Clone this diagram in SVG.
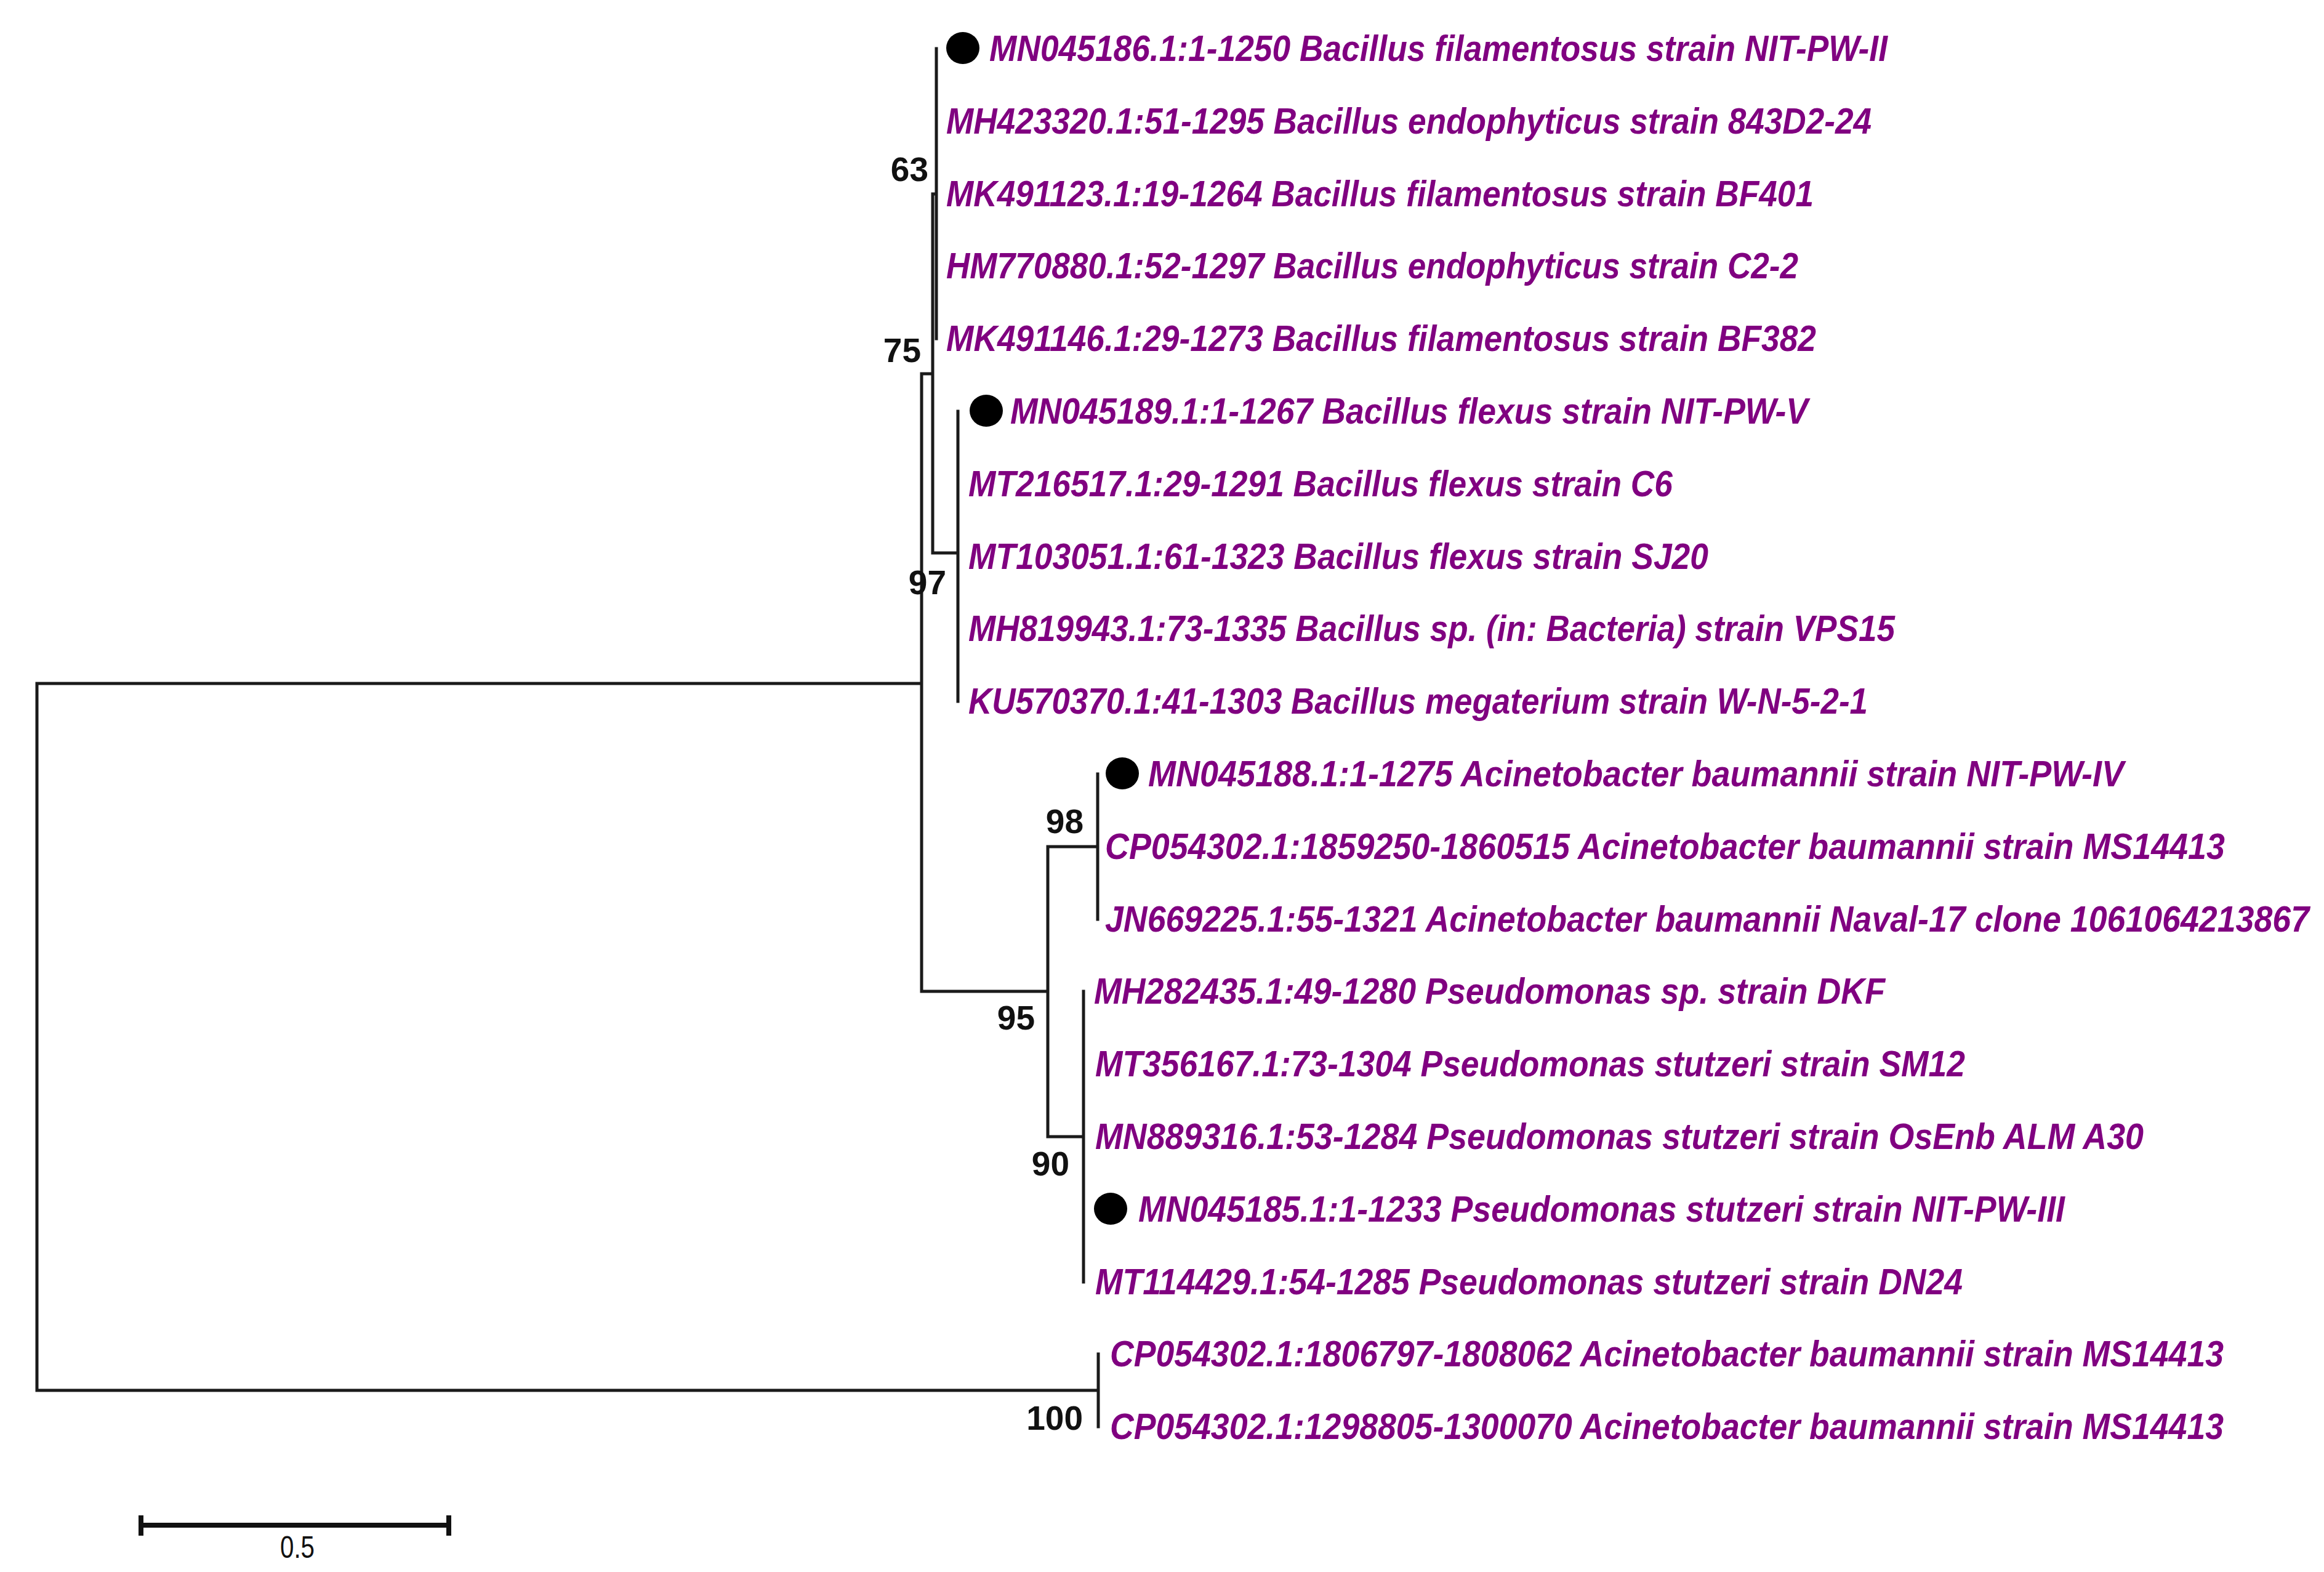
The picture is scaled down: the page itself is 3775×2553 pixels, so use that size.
<svg xmlns="http://www.w3.org/2000/svg" width="3775" height="2553" viewBox="0 0 3775 2553">
<style>
.leaf{font-family:"Liberation Sans",Arial,sans-serif;font-weight:bold;font-style:italic;font-size:54px;fill:#800080;}
.sup{font-family:"Liberation Sans",Arial,sans-serif;font-weight:bold;font-size:55px;fill:#111;text-anchor:end;}
.branch{fill:none;stroke:#1a1a1a;stroke-width:5;stroke-linecap:square;}
.dot{fill:#000;}
.scale{fill:none;stroke:#111;stroke-width:8;}
.scaletxt{font-family:"Liberation Sans",Arial,sans-serif;font-size:50px;fill:#111;text-anchor:middle;}
</style>
<rect width="3775" height="2553" fill="#fff"/>
<g id="connectors">
<path class="branch" d="M60,1110 V2258 M60,1110 H1497 M60,2258 H1784 M1497,607 V1610 M1497,607 H1515 M1497,1610 H1702 M1515,315 V898 M1515,315 H1521 M1515,898 H1556 M1521,79 V550 M1556,668 V1139 M1702,1375 V1846 M1702,1375 H1783 M1702,1846 H1760 M1783,1257 V1493 M1760,1610 V2082 M1784,2199 V2317"/>
</g>
<g id="support-values">
<text class="sup" x="1508" y="294">63</text>
<text class="sup" x="1496" y="588">75</text>
<text class="sup" x="1537" y="965">97</text>
<text class="sup" x="1760" y="1353">98</text>
<text class="sup" x="1681" y="1672">95</text>
<text class="sup" x="1737" y="1909">90</text>
<text class="sup" x="1759" y="2322">100</text>
</g>
<g id="leaf1"><ellipse class="dot" cx="1564" cy="78" rx="27" ry="26"/><text class="leaf" transform="translate(1607,99) scale(1,1.11)" textLength="1459" lengthAdjust="spacingAndGlyphs">MN045186.1:1-1250 Bacillus filamentosus strain NIT-PW-II</text></g>
<g id="leaf2"><text class="leaf" transform="translate(1537,217) scale(1,1.11)" textLength="1503" lengthAdjust="spacingAndGlyphs">MH423320.1:51-1295 Bacillus endophyticus strain 843D2-24</text></g>
<g id="leaf3"><text class="leaf" transform="translate(1537,335) scale(1,1.11)" textLength="1409" lengthAdjust="spacingAndGlyphs">MK491123.1:19-1264 Bacillus filamentosus strain BF401</text></g>
<g id="leaf4"><text class="leaf" transform="translate(1537,452) scale(1,1.11)" textLength="1384" lengthAdjust="spacingAndGlyphs">HM770880.1:52-1297 Bacillus endophyticus strain C2-2</text></g>
<g id="leaf5"><text class="leaf" transform="translate(1537,570) scale(1,1.11)" textLength="1413" lengthAdjust="spacingAndGlyphs">MK491146.1:29-1273 Bacillus filamentosus strain BF382</text></g>
<g id="leaf6"><ellipse class="dot" cx="1602" cy="667" rx="27" ry="26"/><text class="leaf" transform="translate(1641,688) scale(1,1.11)" textLength="1296" lengthAdjust="spacingAndGlyphs">MN045189.1:1-1267 Bacillus flexus strain NIT-PW-V</text></g>
<g id="leaf7"><text class="leaf" transform="translate(1573,806) scale(1,1.11)" textLength="1144" lengthAdjust="spacingAndGlyphs">MT216517.1:29-1291 Bacillus flexus strain C6</text></g>
<g id="leaf8"><text class="leaf" transform="translate(1573,924) scale(1,1.11)" textLength="1202" lengthAdjust="spacingAndGlyphs">MT103051.1:61-1323 Bacillus flexus strain SJ20</text></g>
<g id="leaf9"><text class="leaf" transform="translate(1573,1041) scale(1,1.11)" textLength="1505" lengthAdjust="spacingAndGlyphs">MH819943.1:73-1335 Bacillus sp. (in: Bacteria) strain VPS15</text></g>
<g id="leaf10"><text class="leaf" transform="translate(1573,1159) scale(1,1.11)" textLength="1461" lengthAdjust="spacingAndGlyphs">KU570370.1:41-1303 Bacillus megaterium strain W-N-5-2-1</text></g>
<g id="leaf11"><ellipse class="dot" cx="1823" cy="1256" rx="27" ry="26"/><text class="leaf" transform="translate(1865,1277) scale(1,1.11)" textLength="1585" lengthAdjust="spacingAndGlyphs">MN045188.1:1-1275 Acinetobacter baumannii strain NIT-PW-IV</text></g>
<g id="leaf12"><text class="leaf" transform="translate(1795,1395) scale(1,1.11)" textLength="1819" lengthAdjust="spacingAndGlyphs">CP054302.1:1859250-1860515 Acinetobacter baumannii strain MS14413</text></g>
<g id="leaf13"><text class="leaf" transform="translate(1795,1513) scale(1,1.11)" textLength="1956" lengthAdjust="spacingAndGlyphs">JN669225.1:55-1321 Acinetobacter baumannii Naval-17 clone 1061064213867</text></g>
<g id="leaf14"><text class="leaf" transform="translate(1777,1630) scale(1,1.11)" textLength="1285" lengthAdjust="spacingAndGlyphs">MH282435.1:49-1280 Pseudomonas sp. strain DKF</text></g>
<g id="leaf15"><text class="leaf" transform="translate(1779,1748) scale(1,1.11)" textLength="1413" lengthAdjust="spacingAndGlyphs">MT356167.1:73-1304 Pseudomonas stutzeri strain SM12</text></g>
<g id="leaf16"><text class="leaf" transform="translate(1779,1866) scale(1,1.11)" textLength="1703" lengthAdjust="spacingAndGlyphs">MN889316.1:53-1284 Pseudomonas stutzeri strain OsEnb ALM A30</text></g>
<g id="leaf17"><ellipse class="dot" cx="1804" cy="1963" rx="27" ry="26"/><text class="leaf" transform="translate(1849,1984) scale(1,1.11)" textLength="1505" lengthAdjust="spacingAndGlyphs">MN045185.1:1-1233 Pseudomonas stutzeri strain NIT-PW-III</text></g>
<g id="leaf18"><text class="leaf" transform="translate(1779,2102) scale(1,1.11)" textLength="1409" lengthAdjust="spacingAndGlyphs">MT114429.1:54-1285 Pseudomonas stutzeri strain DN24</text></g>
<g id="leaf19"><text class="leaf" transform="translate(1803,2219) scale(1,1.11)" textLength="1809" lengthAdjust="spacingAndGlyphs">CP054302.1:1806797-1808062 Acinetobacter baumannii strain MS14413</text></g>
<g id="leaf20"><text class="leaf" transform="translate(1803,2337) scale(1,1.11)" textLength="1809" lengthAdjust="spacingAndGlyphs">CP054302.1:1298805-1300070 Acinetobacter baumannii strain MS14413</text></g>
<g id="scale-bar">
<path class="scale" d="M229,2477 H729 M229,2461 V2494 M729,2461 V2494"/>
<text class="scaletxt" x="483" y="2530" textLength="56" lengthAdjust="spacingAndGlyphs">0.5</text>
</g>
</svg>
